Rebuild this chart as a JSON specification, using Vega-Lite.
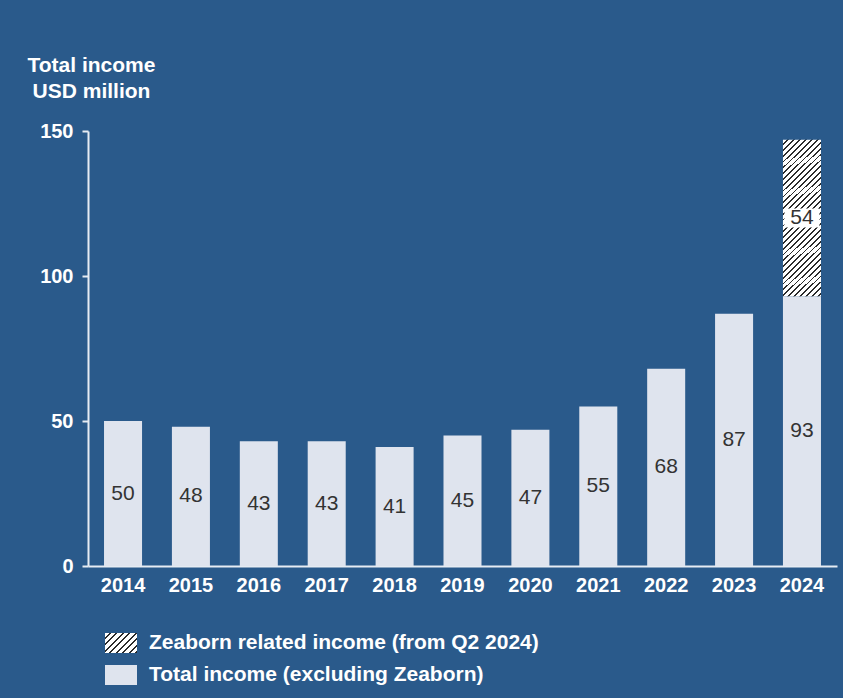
{
  "$schema": "https://vega.github.io/schema/vega-lite/v6.json",
  "width": 749,
  "height": 435,
  "autosize": {"type": "none"},
  "padding": {"left": 88, "top": 131, "right": 6, "bottom": 132},
  "background": "#2a5a8b",
  "config": {
    "view": {"stroke": null},
    "font": "Liberation Sans"
  },
  "data": {
    "values": [
      {"year": "2014", "series": "Total income (excluding Zeaborn)", "value": 50},
      {"year": "2015", "series": "Total income (excluding Zeaborn)", "value": 48},
      {"year": "2016", "series": "Total income (excluding Zeaborn)", "value": 43},
      {"year": "2017", "series": "Total income (excluding Zeaborn)", "value": 43},
      {"year": "2018", "series": "Total income (excluding Zeaborn)", "value": 41},
      {"year": "2019", "series": "Total income (excluding Zeaborn)", "value": 45},
      {"year": "2020", "series": "Total income (excluding Zeaborn)", "value": 47},
      {"year": "2021", "series": "Total income (excluding Zeaborn)", "value": 55},
      {"year": "2022", "series": "Total income (excluding Zeaborn)", "value": 68},
      {"year": "2023", "series": "Total income (excluding Zeaborn)", "value": 87},
      {"year": "2024", "series": "Total income (excluding Zeaborn)", "value": 93},
      {"year": "2024", "series": "Zeaborn related income (from Q2 2024)", "value": 54}
    ]
  },
  "transform": [
    {"stack": "value", "groupby": ["year"], "sort": [{"field": "series", "order": "ascending"}], "as": ["v0", "v1"]},
    {"calculate": "(datum.v0 + datum.v1) / 2", "as": "mid"}
  ],
  "encoding": {
    "x": {
      "field": "year",
      "type": "ordinal",
      "scale": {"paddingInner": 0.44, "paddingOuter": 0.236},
      "axis": {
        "title": null,
        "labelAngle": 0,
        "ticks": false,
        "domainColor": "#e6ecf3",
        "domainWidth": 2,
        "labelFontSize": 20,
        "labelFontWeight": "bold",
        "labelColor": "#ffffff",
        "labelPadding": 9
      }
    }
  },
  "layer": [
    {
      "mark": {"type": "bar", "strokeWidth": 0},
      "encoding": {
        "y": {
          "field": "v0",
          "type": "quantitative",
          "scale": {"domain": [0, 150], "nice": false},
          "axis": {
            "values": [0, 50, 100, 150],
            "title": ["Total income", "USD million"],
            "titleAngle": 0,
            "titleAlign": "center",
            "titleBaseline": "alphabetic",
            "titleX": 3,
            "titleY": -60,
            "titleFontSize": 21,
            "titleFontWeight": "bold",
            "titleColor": "#ffffff",
            "titleLineHeight": 26,
            "labelFontSize": 20,
            "labelFontWeight": "bold",
            "labelColor": "#ffffff",
            "labelPadding": 9,
            "tickSize": 6,
            "tickWidth": 2,
            "tickColor": "#e6ecf3",
            "domainColor": "#e6ecf3",
            "domainWidth": 2,
            "grid": false
          }
        },
        "y2": {"field": "v1"},
        "color": {
          "field": "series",
          "type": "nominal",
          "condition": {
            "test": "datum.series === 'Zeaborn related income (from Q2 2024)'",
            "value": {
              "id": "hatchbar",
              "gradient": "linear",
              "x1": 0, "y1": 0, "x2": 0.276, "y2": 1.171,
              "stops": [
                {"offset": 0, "color": "#ffffff"}, {"offset": 0.021, "color": "#ffffff"}, {"offset": 0.021, "color": "#2b2b2b"}, {"offset": 0.03, "color": "#2b2b2b"},
                {"offset": 0.03, "color": "#ffffff"}, {"offset": 0.051, "color": "#ffffff"}, {"offset": 0.051, "color": "#2b2b2b"}, {"offset": 0.06, "color": "#2b2b2b"},
                {"offset": 0.06, "color": "#ffffff"}, {"offset": 0.081, "color": "#ffffff"}, {"offset": 0.081, "color": "#2b2b2b"}, {"offset": 0.09, "color": "#2b2b2b"},
                {"offset": 0.09, "color": "#ffffff"}, {"offset": 0.111, "color": "#ffffff"}, {"offset": 0.111, "color": "#2b2b2b"}, {"offset": 0.12, "color": "#2b2b2b"},
                {"offset": 0.12, "color": "#ffffff"}, {"offset": 0.141, "color": "#ffffff"}, {"offset": 0.141, "color": "#2b2b2b"}, {"offset": 0.15, "color": "#2b2b2b"},
                {"offset": 0.15, "color": "#ffffff"}, {"offset": 0.171, "color": "#ffffff"}, {"offset": 0.171, "color": "#2b2b2b"}, {"offset": 0.18, "color": "#2b2b2b"},
                {"offset": 0.18, "color": "#ffffff"}, {"offset": 0.201, "color": "#ffffff"}, {"offset": 0.201, "color": "#2b2b2b"}, {"offset": 0.21, "color": "#2b2b2b"},
                {"offset": 0.21, "color": "#ffffff"}, {"offset": 0.231, "color": "#ffffff"}, {"offset": 0.231, "color": "#2b2b2b"}, {"offset": 0.24, "color": "#2b2b2b"},
                {"offset": 0.24, "color": "#ffffff"}, {"offset": 0.261, "color": "#ffffff"}, {"offset": 0.261, "color": "#2b2b2b"}, {"offset": 0.27, "color": "#2b2b2b"},
                {"offset": 0.27, "color": "#ffffff"}, {"offset": 0.291, "color": "#ffffff"}, {"offset": 0.291, "color": "#2b2b2b"}, {"offset": 0.3, "color": "#2b2b2b"},
                {"offset": 0.3, "color": "#ffffff"}, {"offset": 0.321, "color": "#ffffff"}, {"offset": 0.321, "color": "#2b2b2b"}, {"offset": 0.33, "color": "#2b2b2b"},
                {"offset": 0.33, "color": "#ffffff"}, {"offset": 0.351, "color": "#ffffff"}, {"offset": 0.351, "color": "#2b2b2b"}, {"offset": 0.36, "color": "#2b2b2b"},
                {"offset": 0.36, "color": "#ffffff"}, {"offset": 0.381, "color": "#ffffff"}, {"offset": 0.381, "color": "#2b2b2b"}, {"offset": 0.39, "color": "#2b2b2b"},
                {"offset": 0.39, "color": "#ffffff"}, {"offset": 0.411, "color": "#ffffff"}, {"offset": 0.411, "color": "#2b2b2b"}, {"offset": 0.42, "color": "#2b2b2b"},
                {"offset": 0.42, "color": "#ffffff"}, {"offset": 0.441, "color": "#ffffff"}, {"offset": 0.441, "color": "#2b2b2b"}, {"offset": 0.45, "color": "#2b2b2b"},
                {"offset": 0.45, "color": "#ffffff"}, {"offset": 0.471, "color": "#ffffff"}, {"offset": 0.471, "color": "#2b2b2b"}, {"offset": 0.48, "color": "#2b2b2b"},
                {"offset": 0.48, "color": "#ffffff"}, {"offset": 0.501, "color": "#ffffff"}, {"offset": 0.501, "color": "#2b2b2b"}, {"offset": 0.51, "color": "#2b2b2b"},
                {"offset": 0.51, "color": "#ffffff"}, {"offset": 0.531, "color": "#ffffff"}, {"offset": 0.531, "color": "#2b2b2b"}, {"offset": 0.54, "color": "#2b2b2b"},
                {"offset": 0.54, "color": "#ffffff"}, {"offset": 0.561, "color": "#ffffff"}, {"offset": 0.561, "color": "#2b2b2b"}, {"offset": 0.57, "color": "#2b2b2b"},
                {"offset": 0.57, "color": "#ffffff"}, {"offset": 0.591, "color": "#ffffff"}, {"offset": 0.591, "color": "#2b2b2b"}, {"offset": 0.6, "color": "#2b2b2b"},
                {"offset": 0.6, "color": "#ffffff"}, {"offset": 0.621, "color": "#ffffff"}, {"offset": 0.621, "color": "#2b2b2b"}, {"offset": 0.63, "color": "#2b2b2b"},
                {"offset": 0.63, "color": "#ffffff"}, {"offset": 0.651, "color": "#ffffff"}, {"offset": 0.651, "color": "#2b2b2b"}, {"offset": 0.66, "color": "#2b2b2b"},
                {"offset": 0.66, "color": "#ffffff"}, {"offset": 0.681, "color": "#ffffff"}, {"offset": 0.681, "color": "#2b2b2b"}, {"offset": 0.69, "color": "#2b2b2b"},
                {"offset": 0.69, "color": "#ffffff"}, {"offset": 0.711, "color": "#ffffff"}, {"offset": 0.711, "color": "#2b2b2b"}, {"offset": 0.72, "color": "#2b2b2b"},
                {"offset": 0.72, "color": "#ffffff"}, {"offset": 0.741, "color": "#ffffff"}, {"offset": 0.741, "color": "#2b2b2b"}, {"offset": 0.75, "color": "#2b2b2b"},
                {"offset": 0.75, "color": "#ffffff"}, {"offset": 0.771, "color": "#ffffff"}, {"offset": 0.771, "color": "#2b2b2b"}, {"offset": 0.78, "color": "#2b2b2b"},
                {"offset": 0.78, "color": "#ffffff"}, {"offset": 0.801, "color": "#ffffff"}, {"offset": 0.801, "color": "#2b2b2b"}, {"offset": 0.81, "color": "#2b2b2b"},
                {"offset": 0.81, "color": "#ffffff"}, {"offset": 0.831, "color": "#ffffff"}, {"offset": 0.831, "color": "#2b2b2b"}, {"offset": 0.84, "color": "#2b2b2b"},
                {"offset": 0.84, "color": "#ffffff"}, {"offset": 0.861, "color": "#ffffff"}, {"offset": 0.861, "color": "#2b2b2b"}, {"offset": 0.87, "color": "#2b2b2b"},
                {"offset": 0.87, "color": "#ffffff"}, {"offset": 0.891, "color": "#ffffff"}, {"offset": 0.891, "color": "#2b2b2b"}, {"offset": 0.9, "color": "#2b2b2b"},
                {"offset": 0.9, "color": "#ffffff"}, {"offset": 0.921, "color": "#ffffff"}, {"offset": 0.921, "color": "#2b2b2b"}, {"offset": 0.93, "color": "#2b2b2b"},
                {"offset": 0.93, "color": "#ffffff"}, {"offset": 0.951, "color": "#ffffff"}, {"offset": 0.951, "color": "#2b2b2b"}, {"offset": 0.96, "color": "#2b2b2b"},
                {"offset": 0.96, "color": "#ffffff"}, {"offset": 0.981, "color": "#ffffff"}, {"offset": 0.981, "color": "#2b2b2b"}, {"offset": 0.99, "color": "#2b2b2b"},
                {"offset": 0.99, "color": "#ffffff"}, {"offset": 1, "color": "#ffffff"}
              ]
            }
          },
          "scale": {
            "domain": ["Zeaborn related income (from Q2 2024)", "Total income (excluding Zeaborn)"],
            "range": ["url(#hatchlegend)", "#dfe4ee"]
          },
          "legend": {
            "orient": "none",
            "legendX": 17,
            "legendY": 496,
            "title": null,
            "direction": "vertical",
            "padding": 0,
            "rowPadding": 6,
            "symbolType": "M-1,-0.625L1,-0.625L1,0.625L-1,0.625Z",
            "symbolSize": 1024,
            "symbolStrokeWidth": 0,
            "symbolOpacity": 1,
            "labelFontSize": 21,
            "labelFontWeight": "bold",
            "labelColor": "#ffffff",
            "labelOffset": 12,
            "labelLimit": 700
          }
        }
      }
    },
    {
      "transform": [{"filter": "datum.series === 'Zeaborn related income (from Q2 2024)'"}],
      "mark": {
        "type": "point",
        "shape": "M-1,-0.54L1,-0.54L1,0.54L-1,0.54Z",
        "size": 1225,
        "filled": true,
        "fill": "#ffffff",
        "opacity": 1,
        "strokeWidth": 0,
        "stroke": {
          "id": "hatchlegend",
          "gradient": "linear",
          "x1": 0, "y1": 0, "x2": 1.168, "y2": 0.73,
          "stops": [
            {"offset": 0, "color": "#ffffff"}, {"offset": 0.085, "color": "#ffffff"}, {"offset": 0.085, "color": "#2b2b2b"}, {"offset": 0.125, "color": "#2b2b2b"},
            {"offset": 0.125, "color": "#ffffff"}, {"offset": 0.21, "color": "#ffffff"}, {"offset": 0.21, "color": "#2b2b2b"}, {"offset": 0.25, "color": "#2b2b2b"},
            {"offset": 0.25, "color": "#ffffff"}, {"offset": 0.335, "color": "#ffffff"}, {"offset": 0.335, "color": "#2b2b2b"}, {"offset": 0.375, "color": "#2b2b2b"},
            {"offset": 0.375, "color": "#ffffff"}, {"offset": 0.46, "color": "#ffffff"}, {"offset": 0.46, "color": "#2b2b2b"}, {"offset": 0.5, "color": "#2b2b2b"},
            {"offset": 0.5, "color": "#ffffff"}, {"offset": 0.585, "color": "#ffffff"}, {"offset": 0.585, "color": "#2b2b2b"}, {"offset": 0.625, "color": "#2b2b2b"},
            {"offset": 0.625, "color": "#ffffff"}, {"offset": 0.71, "color": "#ffffff"}, {"offset": 0.71, "color": "#2b2b2b"}, {"offset": 0.75, "color": "#2b2b2b"},
            {"offset": 0.75, "color": "#ffffff"}, {"offset": 0.835, "color": "#ffffff"}, {"offset": 0.835, "color": "#2b2b2b"}, {"offset": 0.875, "color": "#2b2b2b"},
            {"offset": 0.875, "color": "#ffffff"}, {"offset": 0.96, "color": "#ffffff"}, {"offset": 0.96, "color": "#2b2b2b"}, {"offset": 1, "color": "#2b2b2b"}
          ]
        }
      },
      "encoding": {
        "y": {"field": "mid", "type": "quantitative", "scale": {"domain": [0, 150], "nice": false}}
      }
    },
    {
      "mark": {"type": "text", "fontSize": 21, "color": "#333333", "baseline": "middle"},
      "encoding": {
        "y": {"field": "mid", "type": "quantitative", "scale": {"domain": [0, 150], "nice": false}},
        "text": {"field": "value", "type": "quantitative"}
      }
    }
  ]
}
